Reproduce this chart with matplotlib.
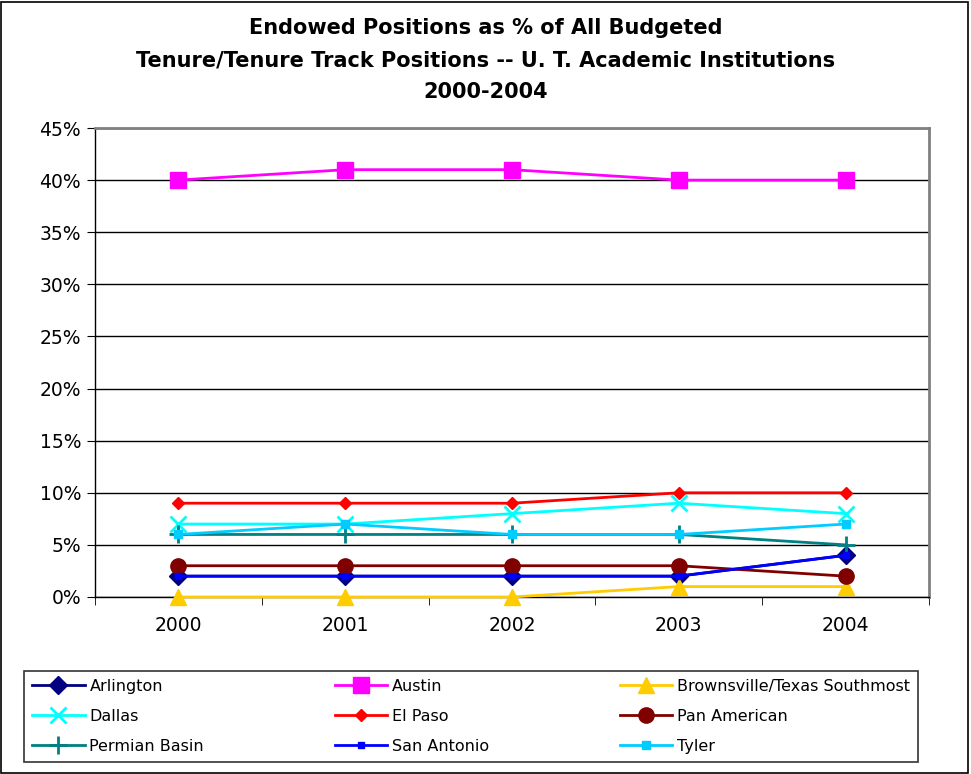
import matplotlib
matplotlib.use("Agg")
import matplotlib.pyplot as plt
from matplotlib.patches import Rectangle
import numpy as np

years = ["2000", "2001", "2002", "2003", "2004"]
arlington = [2, 2, 2, 2, 4]
austin = [40, 41, 41, 40, 40]
brownsville = [0, 0, 0, 1, 1]
dallas = [7, 7, 8, 9, 8]
el_paso = [9, 9, 9, 10, 10]
pan_american = [3, 3, 3, 3, 2]
permian_basin = [6, 6, 6, 6, 5]
san_antonio = [2, 2, 2, 2, 4]
tyler = [6, 7, 6, 6, 7]
y_ticks = [0, 5, 10, 15, 20, 25, 30, 35, 40, 45]

series = [
    ("Arlington", arlington, "#000080", "D", 9),
    ("Austin", austin, "#FF00FF", "s", 11),
    ("Brownsville/Texas Southmost", brownsville, "#FFCC00", "^", 11),
    ("Dallas", dallas, "#00FFFF", "x", 11),
    ("El Paso", el_paso, "#FF0000", "D", 6),
    ("Pan American", pan_american, "#800000", "o", 11),
    ("Permian Basin", permian_basin, "#008080", "+", 13),
    ("San Antonio", san_antonio, "#0000FF", "s", 5),
    ("Tyler", tyler, "#00CCFF", "s", 6),
]

fig = plt.figure(figsize=(9.71, 7.74), dpi=100)
fig.patch.set_facecolor("white")
ax = fig.add_axes([95/971, 1-597/774, 834/971, 469/774])

x = np.arange(len(years))
handles = {}
for name, vals, color, marker, ms in series:
    mew = 2 if marker in ("x", "+") else 1
    h, = ax.plot(x, vals, color=color, lw=2, marker=marker, markersize=ms,
                 markerfacecolor=color, markeredgecolor=color, markeredgewidth=mew,
                 label=name, clip_on=False, zorder=3)
    handles[name] = h

ax.set_xlim(-0.5, 4.5)
ax.set_ylim(0, 45)
ax.set_yticks(y_ticks)
ax.set_yticklabels([f"{v}%" for v in y_ticks])
ax.set_xticks(x)
ax.set_xticklabels(years)
ax.set_xticks(np.arange(-0.5, 5.0, 1.0), minor=True)
ax.tick_params(axis="x", which="major", length=0, pad=14, labelsize=13.5)
ax.tick_params(axis="x", which="minor", length=6, color="black", direction="out")
ax.tick_params(axis="y", which="major", length=6, direction="out", labelsize=13.5, pad=4)
ax.yaxis.grid(True, color="black", lw=1)
ax.set_axisbelow(True)
for s in ("top", "right"):
    ax.spines[s].set_color("#808080")
    ax.spines[s].set_linewidth(2)
for s in ("left", "bottom"):
    ax.spines[s].set_color("black")
    ax.spines[s].set_linewidth(1)

fig.text(0.5, 1-60/774,
         "Endowed Positions as % of All Budgeted\nTenure/Tenure Track Positions -- U. T. Academic Institutions\n2000-2004",
         ha="center", va="center", fontsize=15, fontweight="bold", linespacing=1.75)

order = ["Arlington", "Dallas", "Permian Basin",
         "Austin", "El Paso", "San Antonio",
         "Brownsville/Texas Southmost", "Pan American", "Tyler"]
leg = fig.legend([handles[n] for n in order], order, ncol=3, mode="expand",
                 loc="lower left",
                 bbox_to_anchor=(24/971, 1-762/774, 894/971, 92/774),
                 fontsize=11.5, frameon=True, fancybox=False, edgecolor="black",
                 handlelength=3.3, handletextpad=0.3, borderaxespad=0,
                 labelspacing=0.95, borderpad=0.5, columnspacing=1.0)
leg.get_frame().set_linewidth(1.2)

fig.patches.append(Rectangle((0.001, 0.001), 0.996, 0.997, transform=fig.transFigure,
                             fill=False, edgecolor="black", lw=1.2))

fig.savefig("out.png", dpi=100)
